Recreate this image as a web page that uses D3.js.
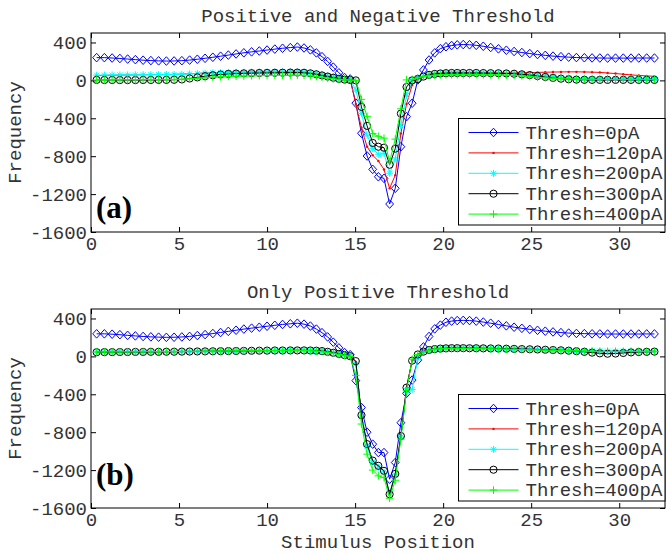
<!DOCTYPE html>
<html>
<head>
<meta charset="utf-8">
<script src="https://cdn.jsdelivr.net/npm/d3@7"></script>
<style>
  body { margin: 0; background: #fff; }
  svg { display: block; }
  .axis_text { font-family: 'Liberation Mono', 'Courier New', monospace; font-size: 19px; fill: #333; }
  .panel_tag { font-family: 'Liberation Serif', 'Times New Roman', serif; font-size: 31px; font-weight: bold; fill: #000; }
</style>
</head>
<body>
<div id="chart"></div>
<script>
// Stimulus positions (shared by every curve)
var xPos = [0.32, 0.76, 1.20, 1.64, 2.08, 2.52, 2.96, 3.40, 3.84, 4.28, 4.72,
  5.16, 5.60, 6.04, 6.48, 6.92, 7.36, 7.80, 8.24, 8.68, 9.12,
  9.56, 10.00, 10.44, 10.88, 11.32, 11.72, 12.10, 12.46, 12.80, 13.12,
  13.44, 13.76, 14.08, 14.40, 14.72,
  15.04, 15.36, 15.68, 16.00, 16.32, 16.64, 16.96, 17.28, 17.60, 17.92,
  18.24, 18.56, 18.88, 19.20, 19.52, 19.84, 20.16, 20.48, 20.80, 21.14,
  21.50, 21.88, 22.28, 22.70, 23.14, 23.59, 24.03, 24.47, 24.92, 25.36,
  25.80, 26.24, 26.69, 27.13, 27.57, 28.02, 28.46, 28.90, 29.34, 29.79,
  30.23, 30.67, 31.11, 31.56, 32.00];

var xTicks = [0, 5, 10, 15, 20, 25, 30];
var yTicks = [400, 0, -400, -800, -1200, -1600];
var legendLabels = ['Thresh=0pA', 'Thresh=120pA', 'Thresh=200pA', 'Thresh=300pA', 'Thresh=400pA'];
var panelTitles = ['Positive and Negative Threshold', 'Only Positive Threshold'];
var panelTags = ['(a)', '(b)'];

// (a) positive and negative threshold
var topThresh0 = [240, 240, 236, 231, 225, 219, 213, 209, 206, 204, 205,
  208, 214, 223, 233, 244, 255, 267, 279, 291, 301,
  310, 320, 330, 339, 346, 352, 342, 322, 290, 250,
  200, 140, 80, 30, 15,
  -240, -558, -798, -939, -1017, -1034, -1305, -1139, -700, -383,
  -241, 5, 110, 215, 290, 335, 355, 368, 375, 378,
  376, 370, 360, 347, 333, 318, 305, 294, 283, 273,
  264, 256, 250, 245, 241, 239, 237, 236, 235, 235,
  235, 235, 236, 236, 236];
var topThresh120 = [50, 52, 54, 56, 57, 58, 59, 60, 61, 62, 64,
  66, 70, 74, 78, 81, 83, 85, 86, 87, 88,
  89, 90, 91, 92, 93, 93, 90, 82, 72, 60,
  48, 36, 24, 14, 8,
  -250, -500, -700, -790, -850, -940, -1140, -1000, -560, -250,
  -50, 20, 45, 60, 70, 75, 78, 80, 80, 80,
  80, 80, 79, 78, 78, 78, 79, 80, 82, 84,
  86, 88, 89, 90, 90, 89, 87, 84, 78, 72,
  65, 58, 52, 47, 43];
var topThresh200 = [55, 56, 57, 58, 58, 59, 60, 60, 61, 62, 63,
  65, 68, 72, 76, 80, 82, 84, 85, 86, 87,
  88, 88, 89, 90, 90, 90, 87, 80, 70, 58,
  46, 34, 22, 12, 6,
  -100, -350, -580, -720, -780, -770, -980, -830, -470, -160,
  0, 25, 45, 60, 68, 73, 76, 78, 78, 78,
  78, 78, 77, 76, 75, 74, 72, 68, 62, 55,
  48, 40, 33, 28, 24, 22, 20, 20, 20, 20,
  20, 20, 20, 20, 20];
var topThresh300 = [5, 4, 4, 3, 3, 3, 4, 4, 5, 5, 6,
  10, 20, 32, 44, 54, 62, 68, 72, 74, 76,
  78, 79, 80, 81, 82, 82, 80, 74, 64, 52,
  40, 28, 16, 8, 4,
  0, -280, -480, -660, -700, -710, -890, -720, -350, -70,
  0, 15, 40, 58, 68, 73, 76, 78, 78, 78,
  78, 78, 77, 76, 75, 73, 70, 64, 56, 46,
  36, 26, 18, 12, 8, 6, 5, 5, 5, 5,
  5, 5, 5, 5, 5];
var topThresh400 = [5, 5, 6, 6, 7, 7, 8, 8, 9, 10, 10,
  12, 16, 22, 28, 34, 38, 42, 44, 46, 48,
  50, 51, 52, 53, 54, 55, 53, 48, 40, 32,
  24, 16, 10, 6, 4,
  0, -200, -380, -560, -590, -610, -860, -620, -300, 5,
  10, 25, 40, 50, 55, 58, 60, 60, 60, 60,
  60, 60, 59, 58, 57, 55, 52, 47, 40, 33,
  27, 22, 18, 15, 13, 12, 11, 10, 10, 10,
  10, 10, 10, 10, 10];

// (b) only positive threshold
var botThresh0 = [238, 238, 234, 229, 222, 216, 210, 206, 203, 201, 202,
  205, 211, 220, 230, 241, 252, 264, 276, 288, 298,
  308, 318, 328, 337, 344, 350, 340, 320, 288, 250,
  205, 150, 90, 40, 18,
  -256, -540, -800, -926, -1015, -1015, -1296, -1120, -700, -390,
  -250, -40, 100, 210, 290, 330, 360, 372, 378, 380,
  378, 372, 362, 350, 336, 322, 308, 296, 285, 275,
  266, 258, 251, 246, 242, 240, 238, 237, 236, 236,
  236, 236, 236, 237, 237];
var botThresh120 = [45, 46, 47, 47, 48, 48, 49, 49, 50, 50, 51,
  52, 52, 53, 54, 55, 56, 57, 58, 59, 60,
  61, 62, 63, 64, 65, 65, 65, 64, 62, 58,
  50, 40, 28, 16, 6,
  -60, -630, -940, -1110, -1160, -1215, -1460, -1245, -845, -330,
  -40, 20, 50, 68, 78, 83, 86, 88, 88, 88,
  88, 87, 86, 85, 84, 82, 80, 78, 76, 74,
  72, 70, 68, 66, 64, 62, 60, 58, 56, 55,
  54, 54, 54, 55, 55];
var botThresh200 = [46, 47, 47, 48, 48, 49, 49, 50, 50, 51, 51,
  52, 53, 53, 54, 55, 56, 57, 58, 59, 60,
  61, 62, 63, 63, 64, 64, 64, 63, 61, 57,
  49, 39, 27, 15, 5,
  -80, -640, -950, -1120, -1170, -1220, -1440, -1250, -850, -360,
  -350, -20, 40, 62, 75, 82, 85, 87, 87, 87,
  86, 86, 85, 84, 83, 81, 79, 77, 75, 73,
  71, 69, 67, 65, 62, 60, 58, 57, 56, 55,
  55, 55, 55, 55, 55];
var botThresh300 = [44, 45, 45, 46, 46, 47, 47, 48, 48, 49, 49,
  50, 51, 52, 53, 54, 55, 56, 57, 58, 59,
  60, 61, 62, 62, 63, 63, 63, 62, 60, 56,
  48, 38, 26, 14, 2,
  -50, -620, -926, -1100, -1155, -1208, -1455, -1240, -840, -330,
  -45, 20, 50, 68, 77, 82, 85, 87, 87, 87,
  86, 86, 85, 84, 83, 81, 79, 77, 75, 73,
  70, 67, 64, 60, 55, 48, 40, 32, 28, 30,
  36, 42, 46, 48, 50];
var botThresh400 = [46, 47, 47, 48, 48, 49, 49, 50, 50, 51, 51,
  52, 53, 53, 54, 55, 56, 57, 58, 59, 60,
  60, 61, 62, 62, 63, 63, 62, 60, 56, 50,
  42, 32, 20, 10, 0,
  -200, -714, -1032, -1200, -1261, -1279, -1497, -1307, -873, -362,
  -30, 20, 48, 66, 75, 80, 83, 84, 84, 84,
  83, 82, 81, 80, 78, 76, 74, 72, 70, 68,
  66, 64, 62, 60, 58, 56, 54, 52, 52, 52,
  52, 52, 52, 53, 53];

var panelSeries = [
  [topThresh0, topThresh120, topThresh200, topThresh300, topThresh400],
  [botThresh0, botThresh120, botThresh200, botThresh300, botThresh400]
];

// styles (one per series, same order as legendLabels)
var lineColors = ['#0000ff', '#ff0000', '#00ffff', '#000000', '#00ff00'];
var markerKinds = ['diamond', 'dot', 'star', 'circle', 'plus'];

var width = 668,
  height = 554,
  plotLeft = 91,
  plotRight = 665,
  panelTops = [33, 309],
  panelHeight = 199;

var svg = d3
  .select('#chart')
  .append('svg')
  .attr('width', width)
  .attr('height', height);

var x = d3.scaleLinear().domain([0, 32.6]).range([plotLeft, plotRight]);

function markerPath(kind) {
  if (kind == 'diamond') return 'M0,-4.3L3.9,0L0,4.3L-3.9,0Z';
  if (kind == 'plus') return 'M-3.8,0H3.8M0,-3.8V3.8';
  if (kind == 'star') return 'M-3.5,0H3.5M0,-3.5V3.5M-2.5,-2.5L2.5,2.5M-2.5,2.5L2.5,-2.5';
  return null;
}

function drawMarker(sel, kind, color) {
  if (kind == 'circle') {
    sel.append('circle').attr('r', 3.6).attr('fill', 'none').attr('stroke', color).attr('stroke-width', 1);
  } else if (kind == 'dot') {
    sel.append('circle').attr('r', 1.2).attr('fill', color);
  } else {
    sel.append('path').attr('d', markerPath(kind)).attr('fill', 'none').attr('stroke', color).attr('stroke-width', 1);
  }
}

function drawPanel(p) {
  var top = panelTops[p];
  var y = d3.scaleLinear().domain([-1600, 500]).range([top + panelHeight, top]);
  var g = svg.append('g').attr('class', 'panel_' + p);

  // frame
  g.append('rect')
    .attr('x', plotLeft)
    .attr('y', top)
    .attr('width', plotRight - plotLeft)
    .attr('height', panelHeight)
    .attr('fill', '#fff')
    .attr('stroke', '#000')
    .attr('stroke-width', 1);

  // axes, ticks pointing inward
  var left = g.append('g')
    .attr('transform', 'translate(' + plotLeft + ',0)')
    .call(d3.axisLeft(y).tickValues(yTicks).tickSize(-5).tickSizeOuter(0).tickPadding(4)
      .tickFormat(function (d) { return String(d); }));
  var bottom = g.append('g')
    .attr('transform', 'translate(0,' + (top + panelHeight) + ')')
    .call(d3.axisBottom(x).tickValues(xTicks).tickSize(-5).tickSizeOuter(0).tickPadding(4.5)
      .tickFormat(function (d) { return String(d); }));
  g.append('g')
    .attr('transform', 'translate(' + plotRight + ',0)')
    .call(d3.axisRight(y).tickValues(yTicks).tickSize(-5).tickSizeOuter(0).tickFormat(''));
  g.append('g')
    .attr('transform', 'translate(0,' + top + ')')
    .call(d3.axisTop(x).tickValues(xTicks).tickSize(-5).tickSizeOuter(0).tickFormat(''));

  g.selectAll('.domain').remove();
  g.selectAll('.tick line').attr('stroke', '#000');
  [left, bottom].forEach(function (a) {
    a.selectAll('text').attr('class', 'axis_text').attr('fill', null);
    a.attr('font-family', null).attr('font-size', null);
  });

  // curves
  var line = d3.line()
    .x(function (d) { return x(d[0]); })
    .y(function (d) { return y(d[1]); });

  panelSeries[p].forEach(function (vals, s) {
    var pts = vals.map(function (v, i) { return [xPos[i], v]; });
    var sg = g.append('g').attr('class', 'series_' + s);
    sg.append('path')
      .datum(pts)
      .attr('d', line)
      .attr('fill', 'none')
      .attr('stroke', lineColors[s])
      .attr('stroke-width', 1);
    sg.selectAll('.mk')
      .data(pts)
      .enter()
      .append('g')
      .attr('class', 'mk')
      .attr('transform', function (d) { return 'translate(' + x(d[0]) + ',' + y(d[1]) + ')'; })
      .each(function () { drawMarker(d3.select(this), markerKinds[s], lineColors[s]); });
  });

  // title
  g.append('text')
    .attr('class', 'axis_text')
    .attr('x', (plotLeft + plotRight) / 2)
    .attr('y', top - 11)
    .attr('text-anchor', 'middle')
    .text(panelTitles[p]);

  // y label
  g.append('text')
    .attr('class', 'axis_text')
    .attr('transform', 'translate(21,' + (top + panelHeight / 2) + ') rotate(-90)')
    .attr('text-anchor', 'middle')
    .text('Frequency');

  // panel tag
  g.append('text')
    .attr('class', 'panel_tag')
    .attr('x', 96)
    .attr('y', top + (p == 0 ? 185 : 176))
    .text(panelTags[p]);

  // legend
  var lx = 458.5, ly = top + 85.5, lw = plotRight - lx, lh = 106.5;
  var lg = g.append('g').attr('class', 'legend');
  lg.append('rect')
    .attr('x', lx)
    .attr('y', ly)
    .attr('width', lw)
    .attr('height', lh)
    .attr('fill', '#fff')
    .attr('stroke', '#000')
    .attr('stroke-width', 1);
  legendLabels.forEach(function (lab, s) {
    var ry = ly + 14 + s * 20.4;
    lg.append('line')
      .attr('x1', lx + 10)
      .attr('x2', lx + 60)
      .attr('y1', ry)
      .attr('y2', ry)
      .attr('stroke', lineColors[s])
      .attr('stroke-width', 1);
    var m = lg.append('g').attr('transform', 'translate(' + (lx + 35) + ',' + ry + ')');
    drawMarker(m, markerKinds[s], lineColors[s]);
    lg.append('text')
      .attr('class', 'axis_text')
      .attr('x', lx + 67)
      .attr('y', ry)
      .attr('dy', '0.32em')
      .text(lab);
  });
}

drawPanel(0);
drawPanel(1);

svg.append('text')
  .attr('class', 'axis_text')
  .attr('x', (plotLeft + plotRight) / 2)
  .attr('y', 547.5)
  .attr('text-anchor', 'middle')
  .text('Stimulus Position');
</script>
</body>
</html>
